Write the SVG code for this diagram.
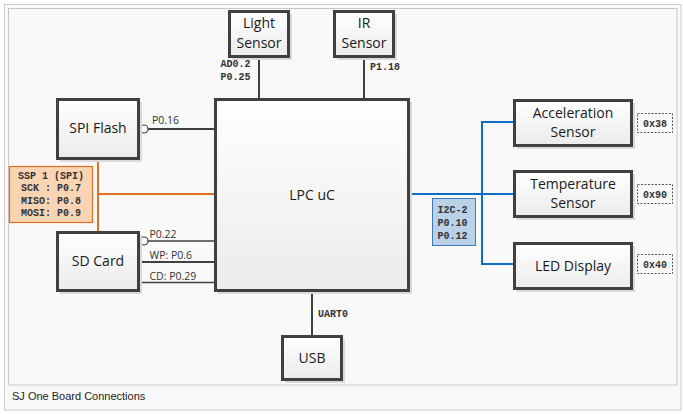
<svg xmlns="http://www.w3.org/2000/svg" width="683" height="414" viewBox="0 0 683 414">
<defs>
<linearGradient id="g" x1="0" y1="0" x2="0" y2="1">
<stop offset="0" stop-color="#ffffff"/>
<stop offset="1" stop-color="#ebebeb"/>
</linearGradient>
<style>
.node{fill:url(#g);stroke:#404040;stroke-width:3}
.shadow{fill:#dadada}
.lbl{font-family:"Open Sans","Noto Sans","DejaVu Sans",sans-serif;font-size:14px;fill:#1a1a1a;text-anchor:middle}
.pin{font-family:"Open Sans","Noto Sans","DejaVu Sans",sans-serif;font-size:10.5px;fill:#333}
.mono{font-family:"Liberation Mono","Courier New",monospace;font-size:10px;font-weight:bold;fill:#333}
.wire{stroke:#404040;stroke-width:2;fill:none}
.thin{stroke:#404040;stroke-width:1.5;fill:none}
.spi{stroke:#e07020;stroke-width:2;fill:none}
.i2c{stroke:#0a6ec8;stroke-width:2;fill:none}
.addr{fill:#f9f9f9;stroke:#555;stroke-width:1;stroke-dasharray:2,1.5}
</style>
</defs>
<rect x="0" y="0" width="683" height="414" fill="#ffffff"/>
<rect x="4.5" y="4.5" width="676.5" height="405.5" fill="#f9f9f9" stroke="#cccccc" stroke-width="1"/>
<rect x="8.5" y="8.5" width="668.5" height="376.5" fill="#f9f9f9" stroke="#c8c8c8" stroke-width="1"/>
<text x="12" y="400" font-family="Liberation Sans,Arial,sans-serif" font-size="11" fill="#222">SJ One Board Connections</text>

<g id="connectors">
<line class="wire" x1="259" y1="57" x2="259" y2="99"/>
<line class="wire" x1="364" y1="57" x2="364" y2="99"/>
<text class="mono" x="220.5" y="66.5">AD0.2</text>
<text class="mono" x="220.5" y="80">P0.25</text>
<text class="mono" x="370" y="70">P1.18</text>
<line class="wire" x1="148" y1="129" x2="215" y2="129"/>
<circle cx="144" cy="129" r="4" fill="#fff" stroke="#404040" stroke-width="1.2"/>
<text class="pin" x="152" y="123.5">P0.16</text>
<polyline class="spi" points="98,159 98,232"/>
<line class="spi" x1="98" y1="194" x2="215" y2="194"/>
<line class="thin" x1="148" y1="241" x2="215" y2="241"/>
<circle cx="144" cy="241" r="4" fill="#fff" stroke="#404040" stroke-width="1.2"/>
<line class="wire" x1="139" y1="262" x2="215" y2="262" stroke-width="2.5"/>
<line class="thin" x1="139" y1="282.5" x2="215" y2="282.5"/>
<text class="pin" x="149.5" y="238">P0.22</text>
<text class="pin" x="149.5" y="259">WP: P0.6</text>
<text class="pin" x="149.5" y="279.5">CD: P0.29</text>
<line class="wire" x1="312" y1="291" x2="312" y2="336"/>
<text class="mono" x="318" y="317">UART0</text>
<line class="i2c" x1="409" y1="194" x2="514" y2="194"/>
<polyline class="i2c" points="514,122 482,122 482,264 514,264"/>
</g>

<g id="ssp-label">
<rect x="9.5" y="166.5" width="83" height="56" fill="#f8d4b4" stroke="#e07020" stroke-width="1.2"/>
<text class="mono" x="51" y="179" text-anchor="middle">SSP 1 (SPI)</text>
<text class="mono" x="51" y="191" text-anchor="middle">SCK : P0.7</text>
<text class="mono" x="51" y="203.5" text-anchor="middle">MISO: P0.8</text>
<text class="mono" x="51" y="215.5" text-anchor="middle">MOSI: P0.9</text>
</g>
<g id="i2c-label">
<rect x="432.5" y="198.5" width="43" height="47" fill="#b9d2e8" stroke="#3a7ab8" stroke-width="1"/>
<text class="mono" x="437.5" y="212.5">I2C-2</text>
<text class="mono" x="437.5" y="225.5">P0.10</text>
<text class="mono" x="437.5" y="238.5">P0.12</text>
</g>

<g id="light-sensor">
<rect class="shadow" x="232" y="14" width="60" height="46"/>
<rect class="node" x="229.5" y="11.5" width="59" height="45"/>
<text class="lbl" x="259" y="28">Light</text>
<text class="lbl" x="259" y="48">Sensor</text>
</g>
<g id="ir-sensor">
<rect class="shadow" x="337" y="14" width="60" height="46"/>
<rect class="node" x="334.5" y="11.5" width="59" height="45"/>
<text class="lbl" x="364" y="28">IR</text>
<text class="lbl" x="364" y="48">Sensor</text>
</g>
<g id="lpc">
<rect class="shadow" x="218" y="102" width="194" height="192"/>
<rect class="node" x="215.5" y="99.5" width="193" height="191"/>
<text class="lbl" x="312" y="200" font-size="15.5">LPC uC</text>
</g>
<g id="spi-flash">
<rect class="shadow" x="60" y="102" width="82" height="60"/>
<rect class="node" x="57.5" y="99.5" width="81" height="59"/>
<text class="lbl" x="98" y="133">SPI Flash</text>
</g>
<g id="sd-card">
<rect class="shadow" x="60" y="235" width="82" height="59"/>
<rect class="node" x="57.5" y="232.5" width="81" height="58"/>
<text class="lbl" x="98" y="266">SD Card</text>
</g>
<g id="usb">
<rect class="shadow" x="285" y="339" width="60" height="44"/>
<rect class="node" x="282.5" y="336.5" width="59" height="43"/>
<text class="lbl" x="312" y="363">USB</text>
</g>
<g id="accel">
<rect class="shadow" x="517" y="103" width="118" height="46"/>
<rect class="node" x="514.5" y="100.5" width="117" height="45"/>
<text class="lbl" x="573" y="118">Acceleration</text>
<text class="lbl" x="573" y="137">Sensor</text>
</g>
<g id="temp">
<rect class="shadow" x="517" y="174" width="118" height="46"/>
<rect class="node" x="514.5" y="171.5" width="117" height="45"/>
<text class="lbl" x="573" y="189">Temperature</text>
<text class="lbl" x="573" y="208">Sensor</text>
</g>
<g id="led">
<rect class="shadow" x="517" y="246" width="118" height="46"/>
<rect class="node" x="514.5" y="243.5" width="117" height="45"/>
<text class="lbl" x="573" y="271">LED Display</text>
</g>
<g id="addr-38">
<rect class="addr" x="637.5" y="113.5" width="35" height="19"/>
<text class="mono" x="655" y="126.5" text-anchor="middle" font-weight="normal">0x38</text>
</g>
<g id="addr-90">
<rect class="addr" x="637.5" y="184.5" width="35" height="19"/>
<text class="mono" x="655" y="197.5" text-anchor="middle" font-weight="normal">0x90</text>
</g>
<g id="addr-40">
<rect class="addr" x="637.5" y="254.5" width="35" height="19"/>
<text class="mono" x="655" y="267.5" text-anchor="middle" font-weight="normal">0x40</text>
</g>
</svg>
